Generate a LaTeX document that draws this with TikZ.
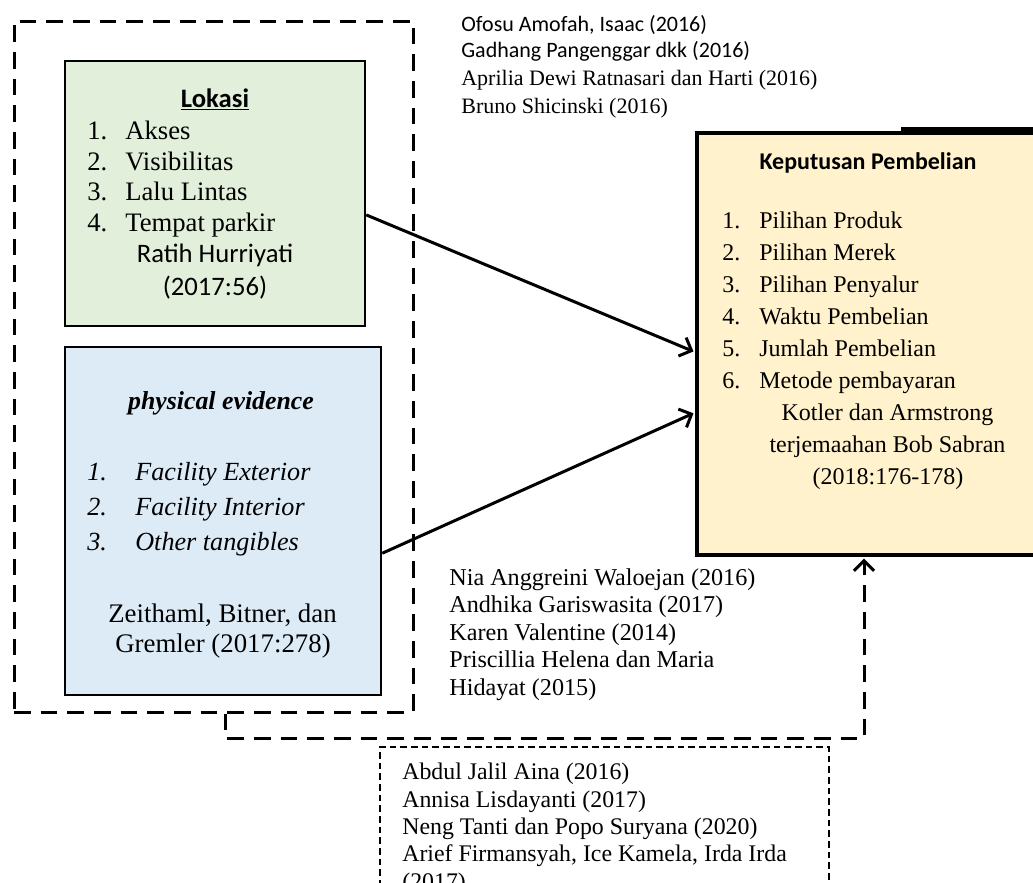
\documentclass[tikz,border=0pt]{standalone}
\usepackage{fontspec}
\setmainfont{Liberation Serif}
\newfontfamily\calibri{Carlito}
\usetikzlibrary{arrows.meta,calc}

\definecolor{lokgreen}{HTML}{E2EFDA}
\definecolor{phyblue}{HTML}{DDEBF7}
\definecolor{kepyellow}{HTML}{FFF2CC}

\begin{document}
\begin{tikzpicture}[x=0.6pt,y=-0.6pt,
    box/.style={draw, line width=1.5pt, inner sep=0},
    txt/.style={anchor=base west, inner sep=0},
    ctxt/.style={anchor=base, inner sep=0},
    tip/.style={-{Straight Barb[length=6pt,width=12pt,line width=1.8pt]}},
    arr/.style={tip, line width=1.8pt, shorten >=1pt},
    bigdash/.style={line width=1.8pt, dash pattern=on 10pt off 6pt}]
    \useasboundingbox (0,0) rectangle (1033,882);
    \clip (0,0) rectangle (1033,882);

    % boxes
    \node[draw, bigdash, inner sep=0, minimum width=239.4pt, minimum height=414.6pt] (luar) at (213.5,366.5) {};
    \node[box, fill=lokgreen, minimum width=180pt, minimum height=159pt] (lok) at (215,193.5) {};
    \node[box, fill=phyblue, minimum width=189.6pt, minimum height=208.8pt] (phy) at (223,521) {};
    \node[box, line width=2.4pt, fill=kepyellow, minimum width=223.8pt, minimum height=253.2pt] (kep) at (883.5,344) {};
    \draw[line width=2.4pt] ($(kep.north west)+(206,-2)$) -- ++(170,0);
    \node[draw, inner sep=0, line width=0.9pt, dash pattern=on 4pt off 2.4pt, minimum width=269.4pt, minimum height=91.8pt] (rujukan) at (604.5,823.5) {};

    % Lokasi
    \node[ctxt, font=\calibri\bfseries\fontsize{16}{18}\selectfont] (loktitle) at (215,107) {\underline{Lokasi}};
    \foreach \t [count=\i] in {Akses, Visibilitas, Lalu Lintas, Tempat parkir} {
        \node[txt, font=\fontsize{16}{18}\selectfont] (loknum\i) at (87,109+30.5*\i) {\i.};
        \node[txt, font=\fontsize{16}{18}\selectfont] (lokitem\i) at (125,109+30.5*\i) {\t};
    }
    \node[ctxt, font=\calibri\fontsize{16}{18}\selectfont] (loksrc1) at (215,262) {Ratih Hurriyati};
    \node[ctxt, font=\calibri\fontsize{16}{18}\selectfont] (loksrc2) at (215,295) {(2017:56)};

    % physical evidence
    \node[ctxt, font=\bfseries\itshape\fontsize{15.5}{18}\selectfont] (phytitle) at (221,409) {physical evidence};
    \foreach \t [count=\i] in {Facility Exterior, Facility Interior, Other tangibles} {
        \node[txt, font=\itshape\fontsize{15.7}{18}\selectfont] (phynum\i) at (87,445+35*\i) {\i.};
        \node[txt, font=\itshape\fontsize{15.7}{18}\selectfont] (phyitem\i) at (135,445+35*\i) {\t};
    }
    \node[ctxt, font=\fontsize{16.1}{18}\selectfont] (physrc1) at (222.5,622) {Zeithaml, Bitner, dan};
    \node[ctxt, font=\fontsize{16.1}{18}\selectfont] (physrc2) at (223,652) {Gremler (2017:278)};

    % Keputusan Pembelian
    \node[ctxt, font=\calibri\bfseries\fontsize{14.4}{17}\selectfont] (keptitle) at (868,169) {Keputusan Pembelian};
    \foreach \t [count=\i] in {Pilihan Produk, Pilihan Merek, Pilihan Penyalur, Waktu Pembelian, Jumlah Pembelian, Metode pembayaran} {
        \node[txt, font=\fontsize{14.4}{17}\selectfont] (kepnum\i) at (722,196+32*\i) {\i.};
        \node[txt, font=\fontsize{14.4}{17}\selectfont] (kepitem\i) at (759,196+32*\i) {\t};
    }
    \node[ctxt, font=\fontsize{14.4}{17}\selectfont] (kepsrc1) at (887.5,420) {Kotler dan Armstrong};
    \node[ctxt, font=\fontsize{14.4}{17}\selectfont] (kepsrc2) at (887.5,452) {terjemaahan Bob Sabran};
    \node[ctxt, font=\fontsize{14.4}{17}\selectfont] (kepsrc3) at (888,484) {(2018:176-178)};

    % penelitian terdahulu
    \node[txt, font=\calibri\fontsize{13.2}{16}\selectfont] (ref1) at (461,31) {Ofosu Amofah, Isaac (2016)};
    \node[txt, font=\calibri\fontsize{13.2}{16}\selectfont] (ref2) at (461,57) {Gadhang Pangenggar dkk (2016)};
    \node[txt, font=\fontsize{13.2}{16}\selectfont] (ref3) at (461,85) {Aprilia Dewi Ratnasari dan Harti (2016)};
    \node[txt, font=\fontsize{13.2}{16}\selectfont] (ref4) at (461,113) {Bruno Shicinski (2016)};
    \foreach \t [count=\i] in {Nia Anggreini Waloejan (2016), Andhika Gariswasita (2017), Karen Valentine (2014), Priscillia Helena dan Maria, Hidayat (2015)}
        \node[txt, font=\fontsize{14.5}{17}\selectfont] (mid\i) at (449,558+27.4*\i) {\t};
    \foreach \t [count=\i] in {Abdul Jalil Aina (2016), Annisa Lisdayanti (2017), Neng Tanti dan Popo Suryana (2020), {Arief Firmansyah, Ice Kamela, Irda Irda}, (2017)}
        \node[txt, font=\fontsize{14.3}{17}\selectfont] (bawah\i) at (402,752.5+27.3*\i) {\t};

    % panah
    \draw[arr] ($(lok.north east)!0.58!(lok.south east)$) -- ($(kep.north west)!0.519!(kep.south west)$);
    \draw[arr] ($(phy.north east)!0.592!(phy.south east)$) -- ($(kep.north west)!0.661!(kep.south west)$);
    \draw[bigdash, tip, shorten >=1pt] ($(luar.south west)!0.53!(luar.south east)$) -- ++(0,25) -| ($(kep.south west)+(169,0)$);
\end{tikzpicture}
\end{document}
